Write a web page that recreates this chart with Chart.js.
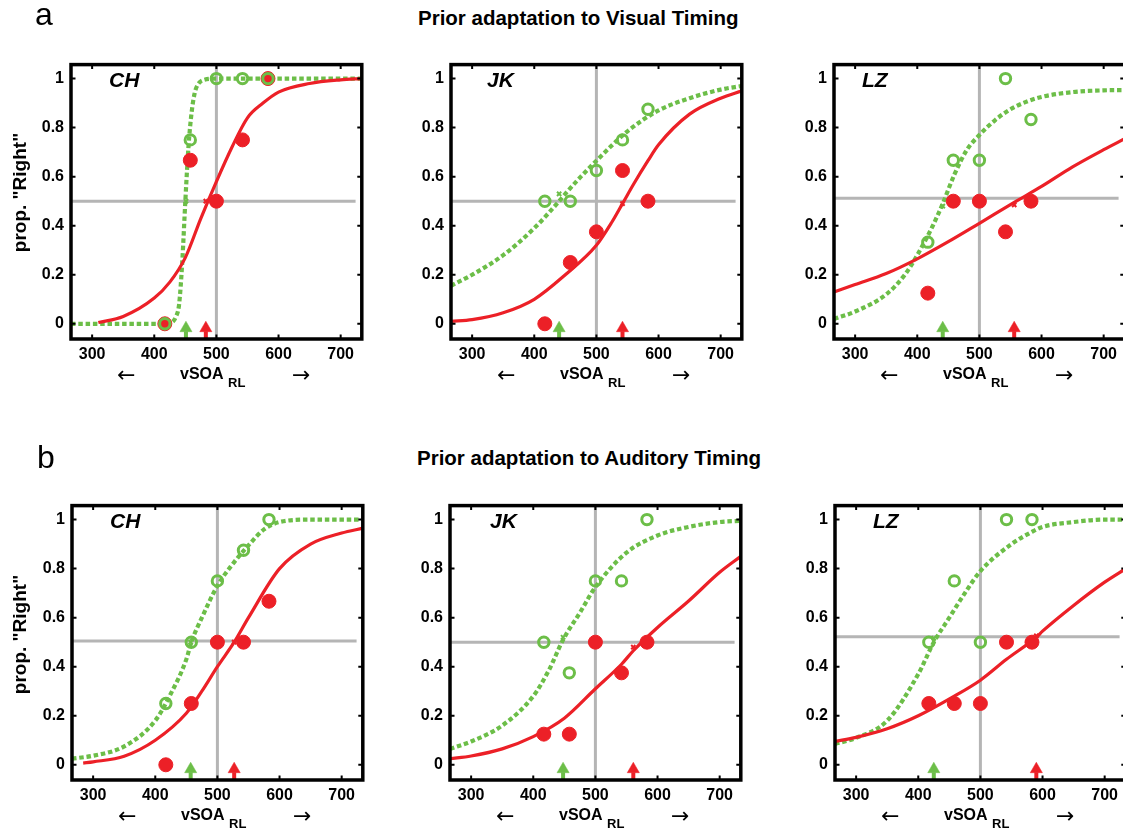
<!DOCTYPE html>
<html lang="en">
<head>
<meta charset="UTF-8">
<title>Prior adaptation - psychometric functions</title>
<script src="https://cdn.jsdelivr.net/npm/chart.js"></script>
<style>
  body { margin: 0; width: 1123px; height: 831px; overflow: hidden; background: #fff; position: relative;
         font-family: "Liberation Sans", Arial, sans-serif; color: #000; }
  canvas { position: absolute; }
  .t { position: absolute; white-space: nowrap; line-height: 1; }
</style>
</head>
<body>
<script>
// stimulus levels (vSOA RL) used in every panel
const soa = [417, 458, 500, 542, 583];
const xTicks = [300, 400, 500, 600, 700];
const yTicks = [0, 0.2, 0.4, 0.6, 0.8, 1];
const subjects = ['CH', 'JK', 'LZ'];

// a: prior adaptation to visual timing -- proportions at each soa
const visCH_red = [0, 0.667, 0.5, 0.75, 1];
const visCH_green = [0, 0.75, 1, 1, 1];
const visJK_red = [0, 0.25, 0.375, 0.625, 0.5];
const visJK_green = [0.5, 0.5, 0.625, 0.75, 0.875];
const visLZ_red = [0.125, 0.5, 0.5, 0.375, 0.5];
const visLZ_green = [0.333, 0.667, 0.667, 1, 0.833];

// b: prior adaptation to auditory timing
const audCH_red = [0, 0.25, 0.5, 0.5, 0.667];
const audCH_green = [0.25, 0.5, 0.75, 0.875, 1];
const audJK_red = [0.125, 0.125, 0.5, 0.375, 0.5];
const audJK_green = [0.5, 0.375, 0.75, 0.75, 1];
const audLZ_red = [0.25, 0.25, 0.25, 0.5, 0.5];
const audLZ_green = [0.5, 0.75, 0.5, 1, 1];

// fitted curves as [soa, prop] pairs
const visCH_redFit = [[310,0.005],[350,0.03],[400,0.105],[425,0.17],[450,0.27],[475,0.43],[500,0.58],[525,0.72],[550,0.84],[575,0.9],[600,0.945],[650,0.98],[700,0.995],[734,1]];
const visCH_greenFit = [[266,0],[300,0],[350,0],[400,0],[425,0.003],[435,0.03],[440,0.08],[445,0.25],[450,0.5],[455,0.72],[460,0.86],[465,0.94],[470,0.975],[480,0.995],[500,1],[550,1],[600,1],[650,1],[700,1],[734,1]];
const visJK_redFit = [[266,0.01],[300,0.017],[350,0.045],[400,0.1],[450,0.2],[500,0.32],[525,0.415],[542,0.49],[560,0.57],[583,0.665],[600,0.73],[650,0.855],[700,0.92],[734,0.95]];
const visJK_greenFit = [[266,0.155],[300,0.2],[350,0.28],[400,0.39],[440,0.5],[450,0.53],[475,0.6],[500,0.665],[550,0.785],[600,0.87],[650,0.92],[700,0.955],[734,0.97]];
const visLZ_redFit = [[266,0.13],[300,0.16],[350,0.205],[400,0.265],[450,0.335],[500,0.41],[556,0.495],[600,0.56],[650,0.64],[700,0.71],[734,0.755]];
const visLZ_greenFit = [[266,0.02],[300,0.05],[350,0.12],[380,0.2],[400,0.28],[425,0.4],[441,0.49],[460,0.61],[480,0.71],[500,0.77],[525,0.83],[550,0.875],[575,0.905],[600,0.925],[650,0.945],[700,0.952],[734,0.953]];
const audCH_redFit = [[284,0.007],[300,0.012],[350,0.035],[400,0.1],[450,0.21],[475,0.3],[500,0.4],[527,0.5],[550,0.6],[600,0.8],[650,0.9],[700,0.945],[734,0.965]];
const audCH_greenFit = [[266,0.025],[300,0.037],[350,0.075],[400,0.18],[425,0.29],[450,0.43],[458,0.5],[475,0.6],[500,0.73],[525,0.82],[550,0.895],[575,0.96],[600,0.99],[650,1],[700,1],[734,1]];
const audJK_redFit = [[266,0.025],[300,0.036],[350,0.065],[400,0.115],[450,0.19],[500,0.31],[542,0.41],[561,0.465],[600,0.56],[650,0.668],[700,0.785],[734,0.85]];
const audJK_greenFit = [[266,0.065],[300,0.095],[350,0.16],[400,0.28],[425,0.385],[448,0.51],[475,0.62],[500,0.725],[550,0.865],[600,0.935],[650,0.97],[700,0.99],[734,0.995]];
const audLZ_redFit = [[266,0.095],[300,0.112],[350,0.147],[400,0.2],[458,0.28],[500,0.345],[542,0.43],[590,0.52],[600,0.545],[650,0.65],[700,0.745],[734,0.8]];
const audLZ_greenFit = [[266,0.085],[300,0.11],[350,0.18],[400,0.37],[425,0.5],[450,0.6],[475,0.7],[500,0.79],[550,0.9],[583,0.95],[600,0.97],[650,0.99],[700,1],[734,1]];

// points of subjective equality (arrows) and the small cross marks on the curves
const visPseGreen = [451, 440, 441];
const visPseRed = [483, 542, 556];
const audPseGreen = [457, 448, 425];
const audPseRed = [527, 561, 590];
const visCrossGreenY = [0.5, 0.53, 0.48];
const visCrossRedY = [0.5, 0.49, 0.485];
const audCrossGreenY = [0.5, 0.52, 0.516];
const audCrossRedY = [0.5, 0.48, 0.526];
// horizontal reference line level
const visHLine = [0.5, 0.5, 0.512];
const audHLine = [0.505, 0.5, 0.522];

const RED = 'rgb(236,32,39)';
const GREEN = 'rgb(108,190,72)';
const GRAY = '#b5b5b5';
const FONT = '"Liberation Sans", Arial, sans-serif';
const X_MIN = 266, X_MAX = 734, Y_MIN = -0.062, Y_MAX = 1.057;

// layout (chart area left/top for each panel)
const colLeft = [[71, 451, 834], [72, 450, 835]];
const rowTop = [56, 497];
const nameDx = [[38, 36, 28], [38, 40, 38]];

const data = {
  vis: {
    red: [visCH_red, visJK_red, visLZ_red], green: [visCH_green, visJK_green, visLZ_green],
    redFit: [visCH_redFit, visJK_redFit, visLZ_redFit], greenFit: [visCH_greenFit, visJK_greenFit, visLZ_greenFit],
    pseG: visPseGreen, pseR: visPseRed, crossG: visCrossGreenY, crossR: visCrossRedY, h: visHLine
  },
  aud: {
    red: [audCH_red, audJK_red, audLZ_red], green: [audCH_green, audJK_green, audLZ_green],
    redFit: [audCH_redFit, audJK_redFit, audLZ_redFit], greenFit: [audCH_greenFit, audJK_greenFit, audLZ_greenFit],
    pseG: audPseGreen, pseR: audPseRed, crossG: audCrossGreenY, crossR: audCrossRedY, h: audHLine
  }
};

// black frame with small inward ticks on all four sides
const boxPlugin = {
  id: 'box',
  afterDraw(chart) {
    const { ctx, chartArea: a, scales: { x, y } } = chart;
    ctx.save();
    ctx.strokeStyle = '#000';
    ctx.lineWidth = 2;
    ctx.beginPath();
    xTicks.forEach(v => {
      const px = x.getPixelForValue(v);
      ctx.moveTo(px, a.top); ctx.lineTo(px, a.top + 4.5);
      ctx.moveTo(px, a.bottom); ctx.lineTo(px, a.bottom - 4.5);
    });
    yTicks.forEach(v => {
      const py = y.getPixelForValue(v);
      ctx.moveTo(a.left, py); ctx.lineTo(a.left + 4.5, py);
      ctx.moveTo(a.right, py); ctx.lineTo(a.right - 4.5, py);
    });
    ctx.stroke();
    ctx.lineWidth = 3.5;
    ctx.strokeRect(a.left, a.top, a.width, a.height);
    ctx.restore();
  }
};

function addText(str, left, top, css) {
  const d = document.createElement('div');
  d.className = 't';
  d.textContent = str;
  d.style.left = left + 'px';
  d.style.top = top + 'px';
  Object.assign(d.style, css);
  document.body.appendChild(d);
  return d;
}

const pts = (xs, ys) => xs.map((x, i) => ({ x, y: ys[i] }));
const pairs = arr => arr.map(([x, y]) => ({ x, y }));

function arrow(xv, color) {
  return [
    { data: [{ x: xv, y: Y_MIN }, { x: xv, y: -0.03 }], showLine: true, borderColor: color, borderWidth: 4, pointRadius: 0, order: 5 },
    { data: [{ x: xv, y: -0.018 }], pointStyle: 'triangle', pointRadius: 7, pointBackgroundColor: color, pointBorderColor: color, borderWidth: 0.5, order: 5 }
  ];
}

function makePanel(set, row, i) {
  const L = colLeft[row][i], T = rowTop[row];
  const cv = document.createElement('canvas');
  cv.width = 369; cv.height = 321;
  cv.style.left = (L - 70) + 'px';
  cv.style.top = (T - 8) + 'px';
  document.body.appendChild(cv);

  new Chart(cv, {
    type: 'scatter',
    data: {
      datasets: [
        { data: pts(soa, set.green[i]), pointRadius: 5.2, borderWidth: 3, pointBorderColor: GREEN, pointBackgroundColor: 'rgba(0,0,0,0)', order: 0 },
        { data: pts(soa, set.red[i]), pointRadius: 7, borderWidth: 1, pointBorderColor: RED, pointBackgroundColor: RED, order: 1 },
        { data: [{ x: set.pseR[i], y: set.crossR[i] }], pointStyle: 'crossRot', pointRadius: 3, borderWidth: 2, pointBorderColor: RED, order: 2 },
        { data: [{ x: set.pseG[i], y: set.crossG[i] }], pointStyle: 'crossRot', pointRadius: 3, borderWidth: 2, pointBorderColor: GREEN, order: 2 },
        { data: pairs(set.redFit[i]), showLine: true, borderColor: RED, borderWidth: 3.2, pointRadius: 0,
          cubicInterpolationMode: 'monotone', order: 3 },
        { data: pairs(set.greenFit[i]), showLine: true, borderColor: GREEN, borderWidth: 4.2, borderDash: [4.5, 2.8],
          borderCapStyle: 'butt', pointRadius: 0, cubicInterpolationMode: 'monotone', order: 4 },
        ...arrow(set.pseG[i], GREEN),
        ...arrow(set.pseR[i], RED),
        { data: [{ x: 500, y: Y_MIN }, { x: 500, y: Y_MAX }], showLine: true, borderColor: GRAY, borderWidth: 3, pointRadius: 0, order: 9 },
        { data: [{ x: X_MIN, y: set.h[i] }, { x: 724, y: set.h[i] }], showLine: true, borderColor: GRAY, borderWidth: 3, pointRadius: 0, order: 9 }
      ]
    },
    options: {
      responsive: false,
      animation: false,
      devicePixelRatio: 1,
      layout: { padding: { left: 0, right: 8, top: 8, bottom: 0 } },
      plugins: { legend: { display: false }, tooltip: { enabled: false } },
      scales: {
        x: {
          type: 'linear', min: X_MIN, max: X_MAX,
          grid: { display: false, drawTicks: false }, border: { display: false },
          afterBuildTicks: s => { s.ticks = xTicks.map(v => ({ value: v })); },
          afterFit: s => { s.height = 30; },
          ticks: { padding: 6, color: '#000', maxRotation: 0, autoSkip: false,
                   font: { family: FONT, size: 16, weight: 'bold' } }
        },
        y: {
          type: 'linear', min: Y_MIN, max: Y_MAX,
          grid: { display: false, drawTicks: false }, border: { display: false },
          afterBuildTicks: s => { s.ticks = yTicks.map(v => ({ value: v })); },
          afterFit: s => { s.width = 70; },
          ticks: { padding: 7, color: '#000', autoSkip: false, callback: v => String(v),
                   font: { family: FONT, size: 16, weight: 'bold' } }
        }
      }
    },
    plugins: [boxPlugin]
  });

  // subject name and x-axis label
  const arrowCss = { fontSize: '22px', fontFamily: '"DejaVu Sans", sans-serif' };
  addText(subjects[i], L + nameDx[row][i], T + 13, { fontSize: '21px', fontWeight: 'bold', fontStyle: 'italic' });
  addText('\u2190', L + 46, T + 308, arrowCss);
  addText('vSOA', L + 109, T + 310, { fontSize: '16px', fontWeight: 'bold' });
  addText('RL', L + 157, T + 320, { fontSize: '13px', fontWeight: 'bold' });
  addText('\u2192', L + 221, T + 308, arrowCss);
}

[0, 1, 2].forEach(i => makePanel(data.vis, 0, i));
[0, 1, 2].forEach(i => makePanel(data.aud, 1, i));

// panel letters, titles, y-axis labels
addText('a', 35, -2, { fontSize: '32px' });
addText('b', 37, 441, { fontSize: '32px' });
addText('Prior adaptation to Visual Timing', 418, 8, { fontSize: '20.5px', fontWeight: 'bold' });
addText('Prior adaptation to Auditory Timing', 417, 448, { fontSize: '20.5px', fontWeight: 'bold' });
[192, 634].forEach(cy => {
  addText('prop. "Right"', 19 - 100, cy - 9.5, { fontSize: '19px', fontWeight: 'bold', width: '200px',
    textAlign: 'center', transform: 'rotate(-90deg)' });
});
</script>
</body>
</html>
